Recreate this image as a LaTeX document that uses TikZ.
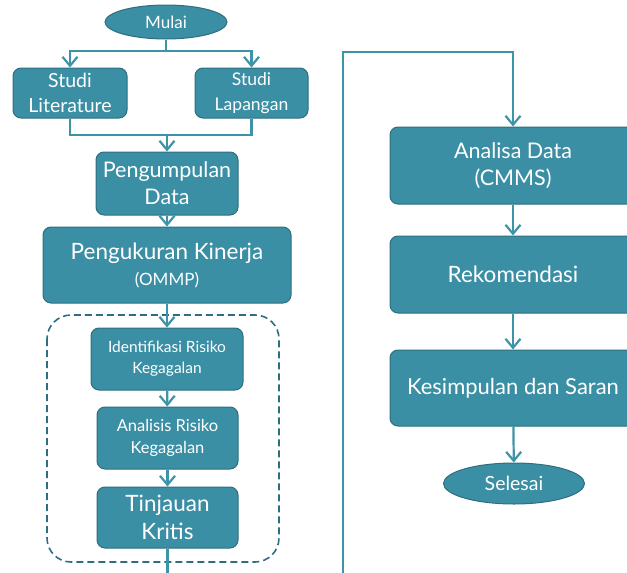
\documentclass[tikz,border=0pt]{standalone}
\usepackage{fontspec}
\setmainfont{Lato}
\usetikzlibrary{arrows.meta,shapes.geometric}
\definecolor{boxfill}{HTML}{3A8FA4}
\definecolor{boxdraw}{HTML}{2E6E7E}
\definecolor{linec}{HTML}{3D93A8}
\definecolor{dashc}{HTML}{2E6E80}
\begin{document}
\begin{tikzpicture}[x=1pt,y=-1pt,
  box/.style={draw=boxdraw, line width=1pt, fill=boxfill, rounded corners=8pt,
    text=white, align=center, inner sep=0pt},
  term/.style={ellipse, draw=boxdraw, line width=1pt, fill=boxfill,
    text=white, inner sep=0pt},
  conn/.style={draw=linec, line width=2.2pt},
  arr/.style={conn, -{Straight Barb[length=9pt,width=15pt,line width=2.2pt]}},
  fbig/.style={font=\fontsize{21.5}{27}\selectfont},
  fmid/.style={font=\fontsize{19.5}{25}\selectfont},
  fsmall/.style={font=\fontsize{15.5}{21}\selectfont}
]
\useasboundingbox (0,0) rectangle (627,573);
\clip (0,0) rectangle (627,573);

% left column
\node[term, minimum width=122pt, minimum height=34pt, font=\fontsize{17}{20}\selectfont] (mulai) at (166,22) {Mulai};
\node[box, fmid, minimum width=114pt, minimum height=50pt] (lit) at (70,93) {Studi\\Literature};
\node[box, font=\fontsize{17.5}{25}\selectfont, minimum width=113pt, minimum height=50pt] (lap) at (251.5,93) {Studi\\Lapangan};
\node[box, fbig, minimum width=142pt, minimum height=63pt] (peng) at (167,183.5) {Pengumpulan\\Data};
\node[box, minimum width=248pt, minimum height=76pt, font=\fontsize{22.5}{27}\selectfont] (ukur) at (167,265)
  {Pengukuran Kinerja\\[-1pt]{\fontsize{17}{20}\selectfont (OMMP)}};

\draw[dashc, line width=1.6pt, dash pattern=on 7pt off 4pt, rounded corners=24pt] (47,315) rectangle (279,562);

\node[box, fsmall, minimum width=152pt, minimum height=62pt] (ident) at (167,359) {Identifikasi Risiko\\Kegagalan};
\node[box, font=\fontsize{16.5}{22}\selectfont, minimum width=141pt, minimum height=62pt] (anal) at (167.5,438) {Analisis Risiko\\Kegagalan};
\node[box, font=\fontsize{22.5}{28}\selectfont, minimum width=141pt, minimum height=61pt] (tinj) at (167.5,517.5) {Tinjauan\\Kritis};

% right column
\node[box, fbig, minimum width=246pt, minimum height=77pt] (analisa) at (513,165.5) {Analisa Data\\(CMMS)};
\node[box, font=\fontsize{22.5}{26}\selectfont, minimum width=246pt, minimum height=77pt] (rekom) at (513,274.5) {Rekomendasi};
\node[box, font=\fontsize{22}{26}\selectfont, minimum width=246pt, minimum height=76pt] (kesim) at (513,388) {Kesimpulan dan Saran};
\node[term, font=\fontsize{19.5}{22}\selectfont, minimum width=141pt, minimum height=41pt] (selesai) at (514,483.5) {Selesai};

% connectors
\coordinate (split) at (166,51);
\draw[conn] (mulai.south) -- (split);
\draw[arr] (split) -| (lit.north);
\draw[arr] (split) -| (lap.north);
\coordinate (merge) at (167,135);
\draw[conn] (lit.south) |- (merge);
\draw[conn] (lap.south) |- (merge);
\draw[arr] (merge) -- (peng.north);
\draw[arr] (peng) -- (ukur);
\draw[arr] (ukur) -- (ident);
\draw[arr] (ident) -- (anal);
\draw[arr] (anal) -- (tinj);

\coordinate (loopL) at (167.5,600);
\coordinate (loopR) at (343,600);
\coordinate (loopT) at (343,52);
\draw[arr] (tinj.south) -- (loopL) -- (loopR) -- (loopT) -| (analisa.north);
\draw[arr] (analisa) -- (rekom);
\draw[arr] (rekom) -- (kesim);
\draw[arr] (kesim) -- (selesai);
\end{tikzpicture}
\end{document}
